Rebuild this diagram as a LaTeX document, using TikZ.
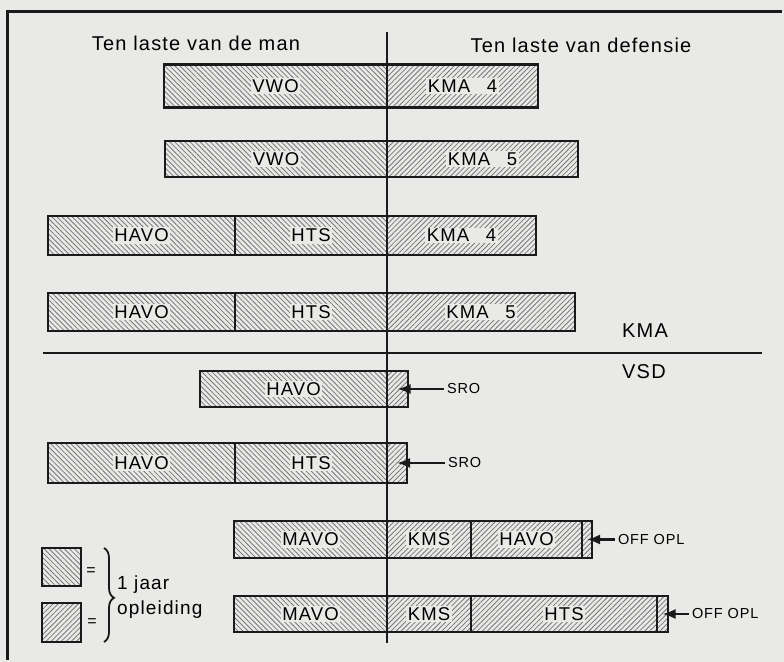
\documentclass[tikz,border=0pt]{standalone}
\usepackage{fontspec}
\setmainfont{Liberation Sans}[LetterSpace=6]
\usepackage{tikz}
\usetikzlibrary{positioning,arrows.meta,patterns.meta,decorations.pathreplacing}
\definecolor{paper}{HTML}{E9E9E7}
\definecolor{ink}{HTML}{1A1A1A}
\definecolor{hatch}{HTML}{767676}
\tikzset{
  >={Latex[length=13bp,width=10bp]},
  seg/.style={draw=ink, line width=2.6bp, inner sep=0pt, outer sep=0pt, minimum height=38bp},
  man/.style={seg, pattern={Lines[angle=-45,distance=3.6pt,line width=.8pt]}, pattern color=hatch},
  def/.style={seg, pattern={Lines[angle=45,distance=3.6pt,line width=.8pt]}, pattern color=hatch},
  tag/.style={fill=paper, inner sep=1.5bp, font=\fontsize{18.5bp}{18bp}\selectfont},
  head/.style={font=\fontsize{20bp}{20bp}\selectfont, inner sep=0pt},
  note/.style={font=\fontsize{14.5bp}{14bp}\selectfont, inner sep=3bp, outer sep=0pt},
  l/.style={->, line width=2.2bp, draw=ink},
}

\begin{document}
\begin{tikzpicture}[x=1bp,y=-1bp]
  \fill[paper] (0,0) rectangle (784,662);
  \draw[ink, line width=2.5bp] (7.5,660) -- (7.5,11.5) -- (782,11.5);
  \node[head] (hman) at (196,43) {Ten laste van de man};
  \node[head] (hdef) at (581,45) {Ten laste van defensie};
  % KMA
  \node[man, minimum width=223bp, minimum height=43bp, anchor=west, label={[tag]center:VWO}] (r1a) at (164,86) {};
  \node[def, minimum width=151bp, minimum height=43bp, right=0pt of r1a, label={[tag]center:KMA\hspace{.9em}4}] (r1b) {};
  \node[man, minimum width=222bp, minimum height=36bp, anchor=west, label={[tag]center:VWO}] (r2a) at (165,159) {};
  \node[def, minimum width=191bp, minimum height=36bp, right=0pt of r2a, label={[tag]center:KMA\hspace{.9em}5}] (r2b) {};
  \node[man, minimum width=187bp, minimum height=39bp, anchor=west, label={[tag]center:HAVO}] (r3a) at (48,235.5) {};
  \node[man, minimum width=152bp, minimum height=39bp, right=0pt of r3a, label={[tag]center:HTS}] (r3b) {};
  \node[def, minimum width=149bp, minimum height=39bp, right=0pt of r3b, label={[tag]center:KMA\hspace{.9em}4}] (r3c) {};
  \node[man, minimum width=187bp, anchor=west, label={[tag]center:HAVO}] (r4a) at (48,312) {};
  \node[man, minimum width=152bp, right=0pt of r4a, label={[tag]center:HTS}] (r4b) {};
  \node[def, minimum width=188bp, right=0pt of r4b, label={[tag]center:KMA\hspace{.9em}5}] (r4c) {};
  % VSD
  \node[man, minimum width=187bp, minimum height=36bp, anchor=west, label={[tag]center:HAVO}] (r5a) at (200,389) {};
  \node[def, minimum width=21bp, minimum height=36bp, right=0pt of r5a] (r5b) {};
  \node[man, minimum width=187bp, minimum height=40bp, anchor=west, label={[tag]center:HAVO}] (r6a) at (48,463) {};
  \node[man, minimum width=152bp, minimum height=40bp, right=0pt of r6a, label={[tag]center:HTS}] (r6b) {};
  \node[def, minimum width=20bp, minimum height=40bp, right=0pt of r6b] (r6c) {};
  \node[man, minimum width=153bp, minimum height=37bp, anchor=west, label={[tag]center:MAVO}] (r7a) at (234,539.5) {};
  \node[def, minimum width=84bp, minimum height=37bp, right=0pt of r7a, label={[tag]center:KMS}] (r7b) {};
  \node[def, minimum width=111bp, minimum height=37bp, right=0pt of r7b, label={[tag]center:HAVO}] (r7c) {};
  \node[def, minimum width=10bp, minimum height=37bp, right=0pt of r7c] (r7d) {};
  \node[man, minimum width=153bp, minimum height=36bp, anchor=west, label={[tag]center:MAVO}] (r8a) at (234,614) {};
  \node[def, minimum width=84bp, minimum height=36bp, right=0pt of r8a, label={[tag]center:KMS}] (r8b) {};
  \node[def, minimum width=186bp, minimum height=36bp, right=0pt of r8b, label={[tag]center:HTS}] (r8c) {};
  \node[def, minimum width=11bp, minimum height=36bp, right=0pt of r8c] (r8d) {};
  \draw[ink, line width=2bp] (387,32) -- (387,643);
  \draw[ink, line width=2bp] (43,353) -- (762,353);
  \node[head, anchor=west] (kma) at (622,331) {KMA};
  \node[head, anchor=west] (vsd) at (622,372) {VSD};
  \node[note, right=36bp of r5b] (sro1) {SRO};
  \node[note, right=38bp of r6c] (sro2) {SRO};
  \node[note, right=23bp of r7d] (off1) {OFF OPL};
  \node[note, right=21bp of r8d] (off2) {OFF OPL};
  \draw[l](sro1)--(r5b.center);\draw[l](sro2)--(r6c.center);
  \draw[l](off1)--(r7d.center);\draw[l](off2)--(r8d.center);
  % legenda
  \node[man, minimum width=39bp] (keym) at (61.5,567) {};
  \node[def, minimum width=39bp, minimum height=39bp] (keyd) at (61.5,622.5) {};
  \node[note, font=\fontsize{16bp}{16bp}\selectfont] (eqm) at (91,572) {=};
  \node[note, font=\fontsize{16bp}{16bp}\selectfont] (eqd) at (92,623) {=};
  \draw[ink, line width=1.8bp, decorate, decoration={brace, amplitude=10bp, aspect=.53}] (104,548) -- (104,642);
  \node[anchor=west, align=left, inner sep=0pt, font=\fontsize{19bp}{25bp}\selectfont] (jaar) at (117,597) {1 jaar\\opleiding};
\end{tikzpicture}
\end{document}
